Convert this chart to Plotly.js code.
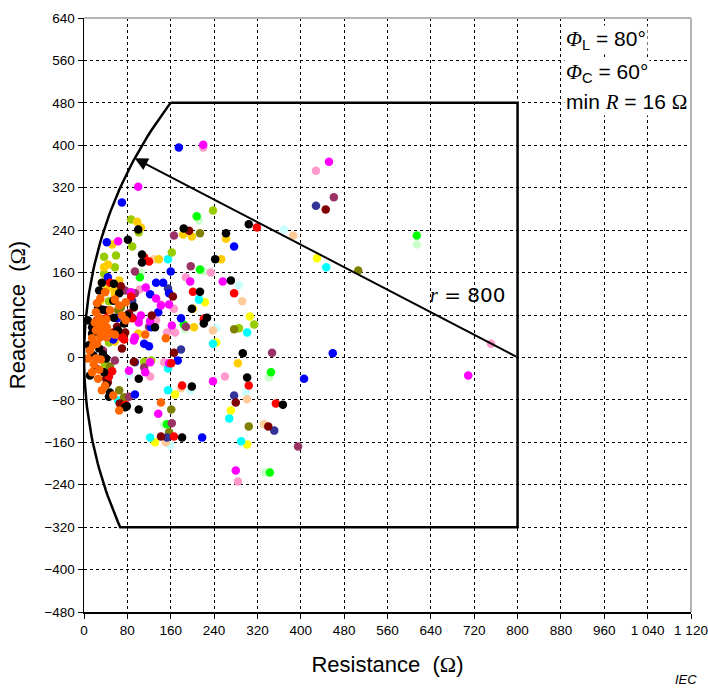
<!DOCTYPE html>
<html><head><meta charset="utf-8">
<script src="https://cdn.plot.ly/plotly-3.0.1.min.js"></script>
<style>html,body{margin:0;padding:0;background:#fff}</style>
</head><body><div id="chart" style="width:708px;height:688px"></div>
<script>
// ---- characteristic parameters ----
const reachR = 800;      // r = 800 (circle centre at R=800, X=0)
const topX = 480;        // upper reactance limit
const bottomX = -320;    // lower reactance limit

// ---- axis ticks ----
const xTicks = [0,80,160,240,320,400,480,560,640,720,800,880,960,1040,1120];
const xTickText = ["0","80","160","240","320","400","480","560","640","720","800","880","960","1 040","1 120"];
const yTicks = [-480,-400,-320,-240,-160,-80,0,80,160,240,320,400,480,560,640];

// ---- measured impedance points (R, X) per series ----
const lightcyanR = [369,286,212,244,299,196,159,83];
const lightcyanX = [241,136,119,55,-66,-62,-166,-32];
const lightgreenR = [614,212,221,186,341,334,148,105];
const lightgreenX = [213,258,162,53,-38,-217,-126,160];
const peachR = [386,292,129,238,301,332,179,151];
const peachX = [230,106,185,51,-79,-126,-58,-160];
const pinkR = [220,428,751,234,188,103,142,166,153,168,260,122,148,284,133];
const pinkX = [396,352,26,160,151,128,100,92,47,47,-36,-36,-9,-234,70];
const yellowR = [430,306,223,244,271,301,168,131];
const yellowX = [187,77,104,28,-100,-164,-70,-160];
const cyanR = [447,155,212,301,238,268,290,155,122,155,63,31];
const cyanX = [170,185,109,47,26,-115,-158,-62,-151,-21,-81,57];
const greenR = [614,208,214,184,345,343,153,103];
const greenX = [230,266,166,62,-28,-217,-126,151];
const yellowgreenR = [238,87,101,89,37,59,57,37,162,286,314,111,124,46,46,39];
const yellowgreenX = [277,260,236,209,190,192,170,158,198,55,62,-8,-6,28,106,-13];
const goldR = [98,105,52,183,199,262,253,138,203,100,284,37,44,65,33,57,42,57,30,57,201];
const goldX = [256,245,213,232,228,224,185,185,57,45,-11,170,175,145,141,128,128,119,107,30,92];
const oliveR = [506,214,277,304,161,157,74,68,63,48,65];
const oliveX = [164,234,53,-130,-98,-141,-75,94,89,-17,-62];
const plumR = [461,347,395,197,166,94,188,162,76,94,120,35,57,83,100,111];
const plumX = [302,9,-168,172,230,162,58,-124,126,121,58,13,-6,-74,70,-19];
const darkblueR = [428,155,179,277,351,153,89,94];
const darkblueX = [286,130,15,-72,-138,-151,107,-9];
const blueR = [175,70,277,459,406,218,42,44,133,146,157,122,137,179,89,124,111,120,173,94,160,61,54];
const blueX = [396,292,209,8,-40,-151,217,151,141,141,121,119,85,74,75,57,26,21,-6,-70,162,74,34];
const magentaR = [220,100,452,709,63,256,196,114,133,157,142,105,122,162,94,92,101,83,122,157,238,137,280,113,87];
const magentaX = [401,322,369,-34,219,143,143,132,111,100,98,79,68,60,38,32,66,-25,-9,-11,-45,-106,-213,-28,123];
const maroonR = [446,194,164,125,223,280,340,142,92,166,68,92,41,83,61,76,54,70,41,44,66];
const maroonX = [279,239,115,79,74,-85,-130,-149,-8,9,134,94,89,83,58,47,47,17,-40,-47,-87];
const redR = [319,277,111,120,201,221,304,354,166,181,161,48,87,89,70,74,52,46,77,41,24];
const redX = [245,121,189,181,124,72,-53,-87,-149,-53,-11,141,115,74,38,34,-26,-36,-89,74,70];
const orangeR = [142,113,151,65,39,24,57,65,77,15,24,22,18,31,28,39,70,77,22,28,35,41,20,31,42,22,35,48,57,30,42,11,17,7,15,26,33,54,30,48];
const orangeX = [-85,43,36,-100,123,102,109,98,104,36,26,-2,-13,-4,-23,-53,79,70,85,75,70,72,66,60,57,51,47,45,43,38,38,13,23,-2,-28,-40,-62,-72,111,89];
const blackR = [304,271,242,262,184,81,107,107,214,221,227,199,293,301,367,199,101,101,79,46,181,131,92,100,33,65,26,35,55,74,15,28,15,28,22,35,41,37,41,76,55,28,7,9,17,48,54,79,63,11];
const blackX = [251,145,185,234,243,222,194,179,124,64,75,92,8,-38,-89,-55,-40,-98,-92,-74,-151,57,96,241,141,121,94,90,75,64,57,47,45,17,-21,6,-2,-28,-51,-94,139,126,70,23,4,-66,107,79,51,-34];

const series = [
  {r: lightcyanR, x: lightcyanX, c: '#CCFFFF'},
  {r: lightgreenR, x: lightgreenX, c: '#CCFFCC'},
  {r: peachR, x: peachX, c: '#FFCC99'},
  {r: pinkR, x: pinkX, c: '#FF99CC'},
  {r: yellowR, x: yellowX, c: '#FFFF00'},
  {r: cyanR, x: cyanX, c: '#00FFFF'},
  {r: greenR, x: greenX, c: '#00FF00'},
  {r: yellowgreenR, x: yellowgreenX, c: '#99CC00'},
  {r: goldR, x: goldX, c: '#FFCC00'},
  {r: oliveR, x: oliveX, c: '#808000'},
  {r: plumR, x: plumX, c: '#993366'},
  {r: darkblueR, x: darkblueX, c: '#333399'},
  {r: blueR, x: blueX, c: '#0000FF'},
  {r: magentaR, x: magentaX, c: '#FF00FF'},
  {r: maroonR, x: maroonX, c: '#800000'},
  {r: redR, x: redX, c: '#FF0000'},
  {r: blackR, x: blackX, c: '#000000'},
  {r: orangeR, x: orangeX, c: '#FF6600'}
];

const traces = series.map(s => ({
  type: 'scatter', mode: 'markers', x: s.r, y: s.x,
  marker: {color: s.c, size: 8.5, line: {width: 0}},
  hoverinfo: 'skip', showlegend: false, cliponaxis: false
}));

// ---- characteristic boundary: circle arc (centre reachR,0) + limits ----
const bR = [], bX = [];
bR.push(reachR - Math.sqrt(reachR*reachR - topX*topX)); bX.push(topX);
bR.push(reachR); bX.push(topX);
bR.push(reachR); bX.push(bottomX);
const aBot = Math.asin(bottomX/reachR), aTop = Math.asin(topX/reachR);
for (let i = 0; i <= 80; i++) {
  const a = aBot + (aTop - aBot) * i / 80;
  bR.push(reachR - reachR*Math.cos(a)); bX.push(reachR*Math.sin(a));
}
traces.push({type:'scatter', mode:'lines', x: bR, y: bX,
  line:{color:'#000', width:2.5}, hoverinfo:'skip', showlegend:false});

const arrowAngle = 152 * Math.PI/180;
const tipR = reachR + reachR*Math.cos(arrowAngle), tipX = reachR*Math.sin(arrowAngle);

const font = 'Arial, "Liberation Sans", sans-serif';
const serifCss = "'Liberation Serif', 'Times New Roman', serif";

const layout = {
  width: 708, height: 688,
  margin: {l: 84, r: 17, t: 18, b: 76},
  paper_bgcolor: '#fff', plot_bgcolor: '#fff',
  font: {family: font, color: '#000', size: 13},
  xaxis: {
    range: [0, 1120], tickvals: xTicks, ticktext: xTickText,
    showgrid: true, gridcolor: '#000', gridwidth: 1, griddash: '3px,3px',
    zeroline: false, showline: true, linecolor: '#000', linewidth: 1.5,
    ticks: 'outside', ticklen: 5, tickcolor: '#000',
    tickfont: {family: font, size: 13.5},
    title: {text: 'Resistance  (<span style="font-family:' + serifCss + '">Ω</span>)', font: {family: font, size: 22}, standoff: 20}
  },
  yaxis: {
    range: [-480, 640], tickvals: yTicks,
    showgrid: true, gridcolor: '#000', gridwidth: 1, griddash: '3px,3px',
    zeroline: false, showline: true, linecolor: '#000', linewidth: 1.5,
    ticks: 'outside', ticklen: 5, tickcolor: '#000',
    tickfont: {family: font, size: 13.5},
    title: {text: 'Reactance  (<span style="font-family:' + serifCss + '">Ω</span>)', font: {family: font, size: 22}, standoff: 12}
  },
  shapes: [
    {type:'line', xref:'paper', yref:'paper', x0:0, x1:1, y0:1, y1:1, line:{color:'#b4b4b4', width:2}, layer:'above'},
    {type:'line', xref:'paper', yref:'paper', x0:1, x1:1, y0:0, y1:1, line:{color:'#b4b4b4', width:2}, layer:'above'}
  ],
  annotations: [
    {x: tipR, y: tipX, ax: reachR, ay: 0, axref: 'x', ayref: 'y', xref: 'x', yref: 'y',
     showarrow: true, arrowhead: 2, arrowsize: 1.3, arrowwidth: 2, arrowcolor: '#000', text: ''},
    {x: 708, y: 117, xref:'x', yref:'y', showarrow:false,
     text: '<i style="font-family:' + serifCss + '">r</i> = 800', font:{family:'"DejaVu Sans", sans-serif', size:20}},
    {x: 886, y: 598, xref:'x', yref:'y', xanchor:'left', showarrow:false, bgcolor:'#fff',
     text: '<i style="font-family:' + serifCss + '">Φ</i><sub>L</sub> = 80°', font:{family: font, size:21}},
    {x: 886, y: 537, xref:'x', yref:'y', xanchor:'left', showarrow:false, bgcolor:'#fff',
     text: '<i style="font-family:' + serifCss + '">Φ</i><sub>C</sub> = 60°', font:{family: font, size:21}},
    {x: 886, y: 481, xref:'x', yref:'y', xanchor:'left', showarrow:false, bgcolor:'#fff',
     text: 'min <i style="font-family:' + serifCss + '">R</i> = 16 <span style="font-family:' + serifCss + '">Ω</span>', font:{family: font, size:21}},
    {x: 1, y: 0, xref:'paper', yref:'paper', xanchor:'right', yanchor:'top', yshift:-58, xshift:8, showarrow:false,
     text: '<i>IEC</i>', font:{family: font, size:13}}
  ]
};

Plotly.newPlot('chart', traces, layout, {displayModeBar: false, staticPlot: true});
</script></body></html>
